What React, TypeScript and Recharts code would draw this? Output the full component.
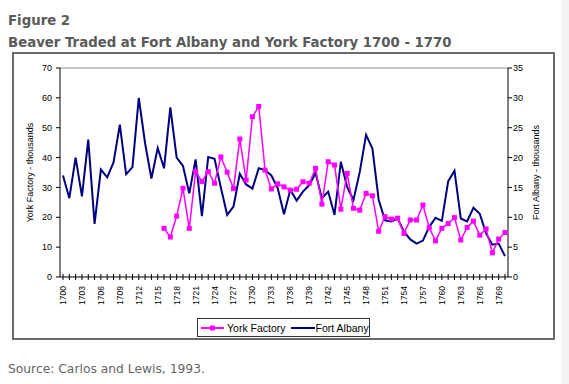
import { LineChart, Line, XAxis, YAxis, ReferenceLine } from 'recharts';

const years = Array.from({ length: 71 }, (_, i) => String(1700 + i));

// York Factory, thousands (left axis) - no data before 1716
const yorkFactory: (number | null)[] = [
  null, null, null, null, null, null, null, null, null, null,
  null, null, null, null, null, null,
  16.3, 13.4, 20.4, 29.7, 16.3, 35.3, 32, 35.3, 31.4, 40.2,
  35.1, 29.6, 46.2, 32.5, 53.7, 57.1, 35.8, 29.5, 31.2, 30.2,
  29.1, 29.4, 31.9, 31.4, 36.4, 24.4, 38.6, 37.5, 22.7, 34.7,
  23, 22.4, 28, 27.2, 15.3, 20.2, 19.4, 19.7, 14.6, 19.1,
  19.1, 24.1, 16.5, 12.1, 16.3, 17.9, 19.9, 12.4, 16.6, 18.7,
  14, 16.1, 8.1, 12.7, 14.9,
];

// Fort Albany, thousands (right axis)
const fortAlbany = [
  17, 13.2, 20, 13.5, 23, 8.9, 18, 16.7, 19.2, 25.5,
  17.2, 18.4, 30, 22.4, 16.5, 21.6, 18.2, 28.4, 20, 18.6,
  14, 19.7, 10.2, 20.1, 19.8, 15, 10.4, 11.8, 17.3, 15.5,
  14.8, 18.2, 17.9, 17, 14.9, 10.5, 14.6, 12.8, 14.3, 15.4,
  17.4, 13.2, 14.3, 10.4, 19.3, 15.1, 12.9, 17.6, 23.8, 21.5,
  12.9, 9.5, 9.3, 9.8, 7.6, 6.3, 5.6, 6.1, 8.4, 9.9,
  9.4, 16, 17.8, 9.8, 9.3, 11.6, 10.6, 7.3, 5.4, 5.6,
  3.5,
];

const leftTicks = [0, 10, 20, 30, 40, 50, 60, 70];
const rightTicks = [0, 5, 10, 15, 20, 25, 30, 35];

const data = years.map((year, i) => ({
  year,
  york: yorkFactory[i],
  albany: fortAlbany[i],
}));

const YORK = '#ff00ff';
const ALBANY = '#000080';
const AXIS_FONT = '"Liberation Sans", Arial, sans-serif';

const YearTick = (props: any) => {
  const { x, y, payload, index } = props;
  return (
    <g>
      <line x1={x} x2={x} y1={y - 3} y2={y + 3} stroke="#000" />
      {index % 3 === 0 && (
        <text
          x={x}
          y={y + 9}
          transform={`rotate(-90 ${x} ${y + 9})`}
          textAnchor="end"
          dominantBaseline="central"
          fontSize={8.5}
          fontFamily={AXIS_FONT}
          fill="#000"
        >
          {payload.value}
        </text>
      )}
    </g>
  );
};

const SquareDot = (props: any) => {
  const { cx, cy, index } = props;
  if (cy == null || cx == null) return <g key={index} />;
  return <rect key={index} x={cx - 2.5} y={cy - 2.5} width={5} height={5} fill={YORK} />;
};

const axisTitle = (text: string, dx: number) => (p: any) => {
  const { x, y, height } = p.viewBox;
  const cx = x + dx;
  const cy = y + height / 2;
  return (
    <text
      x={cx}
      y={cy}
      transform={`rotate(-90 ${cx} ${cy})`}
      textAnchor="middle"
      dominantBaseline="central"
      fontSize={9}
      fontFamily={AXIS_FONT}
      fill="#000"
    >
      {text}
    </text>
  );
};

const App = () => {
  return (
    <div style={{ position: 'absolute', left: 0, top: 0, width: 569, height: 384, background: '#fff', overflow: 'hidden' }}>
      <div style={{ position: 'absolute', left: 561, top: 0, width: 8, height: 384, background: '#f3f3f3' }} />
      <div
        style={{
          position: 'absolute',
          left: 8,
          top: 9.5,
          fontFamily: '"DejaVu Sans", Verdana, sans-serif',
          fontWeight: 'bold',
          fontSize: 13.3,
          lineHeight: '22px',
          color: '#5a5a5a',
          whiteSpace: 'nowrap',
        }}
      >
        <div>Figure 2</div>
        <div>Beaver Traded at Fort Albany and York Factory 1700 - 1770</div>
      </div>

      <div style={{ position: 'absolute', left: 12, top: 52, width: 543, height: 288 }}>
        <LineChart width={543} height={288} data={data} margin={{ top: 16, right: 0, bottom: 0, left: 0 }}>
          <XAxis
            dataKey="year"
            height={63}
            interval={0}
            tickLine={false}
            tickSize={0}
            tickMargin={0}
            tick={<YearTick />}
            axisLine={{ stroke: '#000' }}
            padding={{ left: 3, right: 3 }}
          />
          <YAxis
            yAxisId="left"
            width={48}
            domain={[0, 70]}
            ticks={leftTicks}
            tickSize={4}
            tickMargin={4}
            axisLine={{ stroke: '#000' }}
            tickLine={{ stroke: '#000' }}
            tick={{ fontSize: 9, fontFamily: AXIS_FONT, fill: '#000' }}
            label={{ content: axisTitle('York Factory - thousands', 18) }}
          />
          <YAxis
            yAxisId="right"
            orientation="right"
            width={47}
            domain={[0, 35]}
            ticks={rightTicks}
            tickSize={4}
            tickMargin={1}
            axisLine={{ stroke: '#000' }}
            tickLine={{ stroke: '#000' }}
            tick={{ fontSize: 9, fontFamily: AXIS_FONT, fill: '#000' }}
            label={{ content: axisTitle('Fort Albany - thousands', 28) }}
          />
          <ReferenceLine yAxisId="left" y={70} stroke="#888" />
          <Line
            yAxisId="right"
            dataKey="albany"
            name="Fort Albany"
            type="linear"
            stroke={ALBANY}
            strokeWidth={2}
            dot={false}
            activeDot={false}
            isAnimationActive={false}
          />
          <Line
            yAxisId="left"
            dataKey="york"
            name="York Factory"
            type="linear"
            stroke={YORK}
            strokeWidth={1.5}
            dot={<SquareDot />}
            activeDot={false}
            connectNulls={false}
            isAnimationActive={false}
          />
        </LineChart>
        <div
          style={{
            position: 'absolute',
            left: 185,
            top: 266,
            width: 173,
            height: 19,
            boxSizing: 'border-box',
            border: '1px solid #333',
            background: '#fff',
            display: 'flex',
            alignItems: 'center',
            fontFamily: AXIS_FONT,
            fontSize: 10.5,
            color: '#000',
            whiteSpace: 'nowrap',
          }}
        >
          <svg width={26} height={10} style={{ marginLeft: 2 }}>
            <line x1={1} x2={24} y1={5} y2={5} stroke={YORK} strokeWidth={2} />
            <rect x={10} y={2.5} width={5} height={5} fill={YORK} />
          </svg>
          <span style={{ marginLeft: 1 }}>York Factory</span>
          <svg width={26} height={10} style={{ marginLeft: 4 }}>
            <line x1={1} x2={25} y1={5} y2={5} stroke={ALBANY} strokeWidth={2} />
          </svg>
          <span>Fort Albany</span>
        </div>
        <div
          style={{
            position: 'absolute',
            left: 0,
            top: 0,
            width: 543,
            height: 288,
            boxSizing: 'border-box',
            border: '2px solid #6a6a6a',
            pointerEvents: 'none',
          }}
        />
      </div>

      <div
        style={{
          position: 'absolute',
          left: 8,
          top: 362.5,
          fontFamily: '"DejaVu Sans", Verdana, sans-serif',
          fontSize: 12.3,
          lineHeight: 1,
          color: '#666',
          whiteSpace: 'nowrap',
        }}
      >
        Source: Carlos and Lewis, 1993.
      </div>
    </div>
  );
};

export default App;
